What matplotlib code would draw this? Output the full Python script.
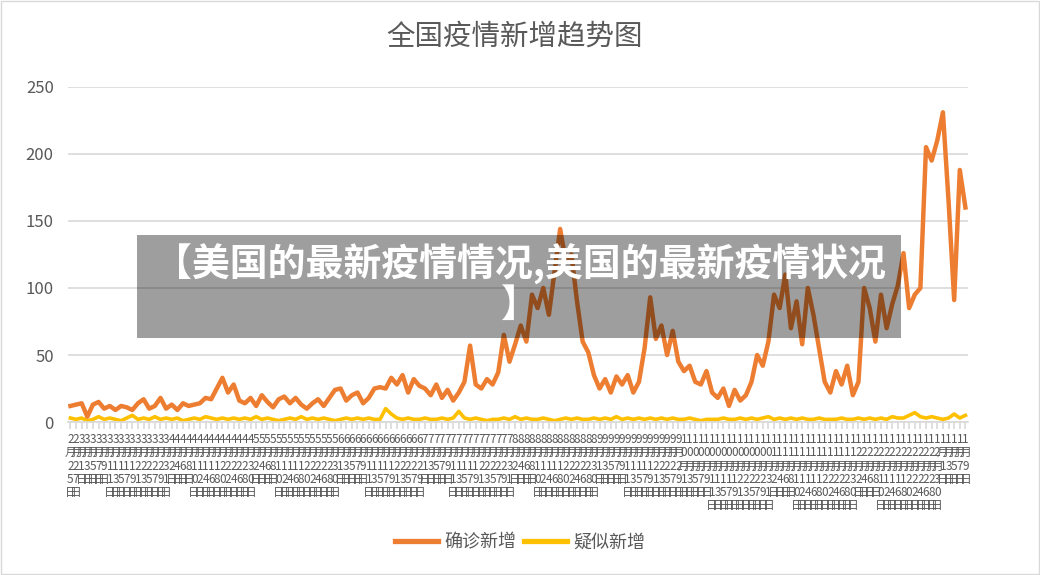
import matplotlib
matplotlib.use("Agg")
import matplotlib.pyplot as plt
import numpy as np
import pandas as pd
from matplotlib.patches import Rectangle

plt.rcParams['font.family'] = ['Noto Sans CJK SC', 'DejaVu Sans']

title = "全国疫情新增趋势图"
series_names = ["确诊新增", "疑似新增"]
banner = "【美国的最新疫情情况,美国的最新疫情状况\n】"

confirmed = [
    12, 13, 14, 4, 13, 15, 10, 12, 9, 12, 11,
    9, 14, 17, 10, 12, 18, 10, 13, 9, 14, 12, 13,
    14, 18, 17, 25, 33, 22, 28, 16,
    14, 18, 12, 20, 15, 11, 17, 19, 14, 18, 13,
    10, 14, 17, 12, 18, 24, 25,
    16, 20, 22, 14, 18, 25, 26,
    25, 33, 28, 35, 22, 32, 27,
    25, 20, 28, 18, 24, 16, 22, 30,
    57, 28, 25, 32, 28, 37,
    65, 45, 58, 72, 60, 95,
    85, 100, 80, 112, 144, 120,
    125, 90, 60, 52, 35,
    25, 32, 22, 34, 28, 35, 22, 30,
    55, 93, 62, 72, 50, 68, 45,
    38, 42, 30, 28, 38, 22,
    18, 25, 12, 24, 16, 20, 30,
    50, 42, 60, 95, 85, 110, 70,
    90, 58, 100, 80, 55, 30,
    22, 38, 28, 42, 20, 30, 100,
    85, 60, 95, 70, 88, 102,
    126, 85, 95, 100,
    205, 195, 210, 231, 165, 91, 188, 160,
]
suspected = [
    3, 2, 3, 1, 2, 4, 2, 3, 2, 1, 3,
    5, 2, 3, 2, 4, 2, 3, 2, 3, 1, 2, 3,
    2, 4, 3, 2, 3, 2, 3, 2,
    3, 2, 4, 2, 3, 2, 1, 2, 3, 2, 4,
    2, 3, 2, 3, 2, 1, 2,
    3, 2, 3, 2, 3, 2, 2,
    10, 6, 3, 2, 3, 2, 2,
    3, 2, 2, 3, 2, 3, 8, 3,
    2, 3, 2, 1, 2, 2,
    3, 2, 4, 2, 3, 2,
    2, 3, 2, 1, 2, 3,
    2, 3, 2, 2, 3,
    2, 3, 2, 4, 2, 3, 2, 3,
    2, 3, 2, 3, 2, 3, 2,
    2, 3, 2, 1, 2, 2,
    2, 3, 2, 2, 3, 2, 3,
    2, 3, 4, 2, 3, 2, 3,
    2, 3, 2, 2, 3, 2,
    2, 2, 3, 2, 2, 3, 2,
    3, 2, 3, 2, 4, 3,
    3, 5, 7, 4,
    3, 4, 3, 2, 3, 6, 3, 5,
]

n = len(confirmed)
dates = pd.date_range("2021-02-25", periods=n, freq="2D")
date_labels = [f"{d.month}月{d.day}日" for d in dates]
stacked_labels = ["\n".join(lbl) for lbl in date_labels]
x = np.arange(n)

fig = plt.figure(figsize=(10.4, 5.75), dpi=100)
ax = fig.add_axes([0.065, 0.266, 0.866, 0.583])

ax.plot(x, confirmed, color="#ED7D31", lw=3.2, solid_joinstyle="round", label=series_names[0], zorder=3)
ax.plot(x, suspected, color="#FFC000", lw=2.6, solid_joinstyle="round", label=series_names[1], zorder=2)

ax.set_ylim(0, 250)
ax.set_xlim(-0.5, n - 0.5)
ax.set_yticks(np.arange(0, 251, 50))
ax.yaxis.grid(True, color="#D9D9D9", lw=1.2)
ax.set_axisbelow(True)
for s in ["top", "right", "left"]:
    ax.spines[s].set_visible(False)
ax.spines["bottom"].set_color("#D9D9D9")
ax.spines["bottom"].set_linewidth(1.2)
ax.tick_params(axis="y", length=0, labelsize=12, labelcolor="#595959", pad=10)
ax.set_xticks(x)
ax.set_xticklabels(stacked_labels, rotation=0, fontsize=8.5, color="#595959",
                   va="top", ha="center", linespacing=1.02)
ax.tick_params(axis="x", length=5, color="#D9D9D9", width=1.2, pad=3)

fig.text(0.495, 0.936, title, ha="center", va="center", fontsize=20.5, color="#595959")

leg = fig.legend(loc="center", bbox_to_anchor=(0.5, 0.057), ncol=2, frameon=False,
                 fontsize=13, handlelength=2.4, columnspacing=0.4, handletextpad=0.35)
for t in leg.get_texts():
    t.set_color("#595959")
for l in leg.get_lines():
    l.set_linewidth(3.8)

fig.patches.append(Rectangle((137 / 1040, 1 - 338 / 575), (901 - 137) / 1040, (338 - 235) / 575,
                             transform=fig.transFigure, facecolor="black", alpha=0.38,
                             edgecolor="none", zorder=10))
fig.text(0.5, 1 - 284 / 575, banner, ha="center", va="center", fontsize=27.3, color="white",
         fontweight="black", linespacing=1.02, zorder=11)

fig.patches.append(Rectangle((0.001, 0.001), 0.998, 0.998, transform=fig.transFigure,
                             facecolor="none", edgecolor="#D9D9D9", lw=1))

fig.savefig("out.png", dpi=100)
